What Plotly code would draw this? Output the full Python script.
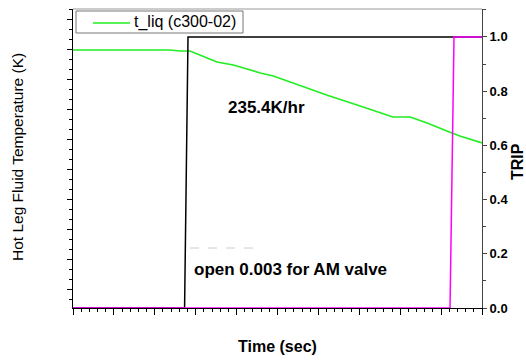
import plotly.graph_objects as go

# ---- data ----
time_liq = [0, 60, 118, 131, 143, 155, 176, 196, 216, 229, 245, 269, 310, 351, 391, 412, 433, 457, 473, 500]
t_liq = [543.9, 543.9, 543.9, 543.8, 543.8, 543.4, 542.7, 542.4, 541.9, 541.6, 541.3, 540.6, 539.4,
         538.3, 537.2, 537.2, 536.6, 535.8, 535.3, 534.6]

time_trip1 = [0, 136.4, 140.6, 500]
trip1 = [0, 0, 1, 1]

time_trip2 = [0, 460.9, 465.8, 500]
trip2 = [0, 0, 1, 1]

x_range = [0, 500]
y_left_range = [518.1, 548.0]
y_right_range = [0, 1.103]
right_ticks = [0.0, 0.2, 0.4, 0.6, 0.8, 1.0]
legend_label = "t_liq (c300-02)"

FONT = "Liberation Sans, Arial, sans-serif"
GREEN = "#22ee22"

fig = go.Figure()
fig.add_trace(go.Scatter(x=time_trip1, y=trip1, mode="lines", yaxis="y2",
                         line=dict(color="#000000", width=1.5), showlegend=False))
fig.add_trace(go.Scatter(x=time_trip2, y=trip2, mode="lines", yaxis="y2",
                         line=dict(color="#ff00ff", width=1.5), showlegend=False))
fig.add_trace(go.Scatter(x=time_liq, y=t_liq, mode="lines", name=legend_label,
                         line=dict(color=GREEN, width=1.7), showlegend=False))

fig.update_layout(
    width=526, height=360,
    margin=dict(l=73, r=44, t=9, b=52),
    paper_bgcolor="white", plot_bgcolor="white",
    font=dict(family=FONT, color="#000000"),
    showlegend=False,
    xaxis=dict(range=x_range, showgrid=False, zeroline=False,
               showline=True, linecolor="#000000", linewidth=1,
               ticks="outside", ticklen=6, tickcolor="#000000", dtick=50, tick0=0,
               showticklabels=False,
               minor=dict(ticks="outside", ticklen=3, dtick=10, tickcolor="#000000")),
    yaxis=dict(range=y_left_range, showgrid=False, zeroline=False,
               showline=True, linecolor="#000000", linewidth=1,
               ticks="outside", ticklen=5, tickcolor="#000000", dtick=3, tick0=520,
               showticklabels=False,
               minor=dict(ticks="outside", ticklen=3, dtick=1, tickcolor="#000000")),
    yaxis2=dict(range=y_right_range, overlaying="y", side="right",
                showgrid=False, zeroline=False,
                showline=True, linecolor="#444444", linewidth=1,
                ticks="outside", ticklen=4, tickcolor="#444444",
                tickvals=right_ticks, tickformat=".1f",
                tickfont=dict(size=13, family=FONT, weight="bold", color="#000000"),
                minor=dict(ticks="outside", ticklen=3, dtick=0.1, tickcolor="#444444")),
)

def px_x(p):
    return (p - 73) / 409

def px_y(p):
    return (308 - p) / 299

# top border of plot frame
fig.add_shape(type="line", xref="paper", yref="paper", x0=0, x1=1, y0=1, y1=1,
              line=dict(color="#999999", width=1))
# faint dashed artifact above the valve note
fig.add_shape(type="line", xref="paper", yref="paper", x0=px_x(190), x1=px_x(258),
              y0=px_y(248), y1=px_y(248),
              line=dict(color="#cccccc", width=1, dash="dash"))

# legend box (drawn by hand to match the sample line length)
fig.add_shape(type="rect", xref="paper", yref="paper", x0=px_x(76), x1=px_x(243),
              y0=px_y(33), y1=px_y(11), line=dict(color="#777777", width=1),
              fillcolor="white", layer="above")
fig.add_shape(type="line", xref="paper", yref="paper", x0=px_x(93), x1=px_x(130),
              y0=px_y(23), y1=px_y(23), line=dict(color=GREEN, width=1.7), layer="above")

def note(text, x, y, size, bold=True, angle=0, xanchor="center"):
    fig.add_annotation(text=text, xref="paper", yref="paper", x=x, y=y,
                       xanchor=xanchor, yanchor="middle", showarrow=False,
                       textangle=angle,
                       font=dict(size=size, family=FONT, color="#000000",
                                 weight="bold" if bold else "normal"))

note(legend_label, px_x(132), px_y(22), 16, bold=False, xanchor="left")
note("235.4K/hr", px_x(266.5), px_y(107), 17)
note("open 0.003 for AM valve", px_x(290), px_y(269), 17)
note("Time (sec)", 0.5, px_y(346), 16)
note("Hot Leg Fluid Temperature (K)", px_x(17), px_y(157), 15.5, bold=False, angle=-90)
note("TRIP", px_x(517), px_y(162), 16, angle=-90)

fig.write_html("out.html")
